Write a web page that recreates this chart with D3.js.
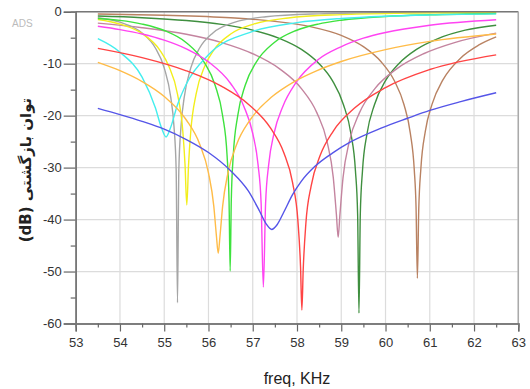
<!DOCTYPE html>
<html><head><meta charset="utf-8">
<script src="https://cdn.jsdelivr.net/npm/d3@7"></script>
<style>body{margin:0;background:#fff}svg{display:block}</style>
</head><body><svg id="c" width="530" height="389"></svg>
<script>
// ---- data ----
const xTicks = [53,54,55,56,57,58,59,60,61,62,63];
const yTicks = [0,-10,-20,-30,-40,-50,-60];

const cyanF = [53.5,54.0,54.5,54.8,54.94,55.04,55.14,55.3,55.5,56.0,57.0,58.0,59.0,60.0,61.0,62.5];
const cyanDB = [-5.2,-7.8,-12.6,-18.5,-22.4,-24.1,-22.4,-17.9,-13.9,-8.3,-3.8,-2.1,-1.3,-0.87,-0.62,-0.41];

const grayF = [53.5,54.0,54.5,54.8,55.0,55.15,55.22,55.27,55.3,55.33,55.38,55.45,55.6,55.8,56.1,56.6,57.3,58.5,60.0,62.5];
const grayDB = [-1.17,-2.02,-4.09,-6.99,-10.8,-16.6,-22.0,-30.5,-56,-30.5,-22.0,-16.6,-10.8,-6.99,-4.09,-2.02,-0.97,-0.41,-0.19,-0.08];

const yellowF = [53.5,54.0,54.5,54.9,55.1,55.3,55.42,55.47,55.51,55.55,55.6,55.72,55.92,56.12,56.52,57.02,57.8,59.0,60.5,62.5];
const yellowDB = [-1.5,-2.38,-4.2,-7.38,-10.4,-15.85,-23.0,-29.4,-37.2,-29.4,-23.0,-15.85,-10.4,-7.38,-4.2,-2.38,-1.2,-0.56,-0.28,-0.14];

const orangeF = [53.5,54.0,54.5,55.0,55.5,55.8,56.0,56.12,56.18,56.22,56.26,56.32,56.44,56.64,56.94,57.44,57.94,58.44,59.0,60.0,61.0,62.5];
const orangeDB = [-9.75,-11.35,-13.44,-16.33,-20.84,-25.45,-31.0,-37.4,-43.2,-46.5,-43.2,-37.4,-31.0,-25.45,-20.84,-16.33,-13.44,-11.37,-9.58,-7.3,-5.72,-4.3];

const greenF = [53.5,54.0,54.5,55.0,55.5,55.9,56.15,56.32,56.42,56.465,56.49,56.515,56.56,56.66,56.83,57.08,57.48,57.98,58.48,59.0,60.0,61.0,62.5];
const greenDB = [-1.3,-1.66,-2.38,-3.62,-5.97,-9.69,-14.15,-20.04,-27.68,-36.46,-49.9,-36.46,-27.68,-20.04,-14.15,-9.69,-5.97,-3.62,-2.38,-1.64,-0.92,-0.59,-0.34];

const magentaF = [53.5,54.0,54.5,55.0,55.5,56.0,56.5,56.8,57.0,57.12,57.19,57.24,57.29,57.36,57.48,57.68,57.98,58.48,58.98,59.5,60.0,61.0,62.5];
const magentaDB = [-2.8,-3.44,-4.29,-5.47,-7.15,-9.66,-13.82,-18.22,-23.44,-29.42,-36.95,-53.0,-36.95,-29.42,-23.44,-18.22,-13.6,-9.2,-6.8,-5.1,-4.0,-2.6,-1.55];

const blueF = [53.5,54.0,54.5,55.0,55.5,56.0,56.5,56.9,57.15,57.3,57.43,57.55,57.7,57.9,58.1,58.4,58.8,59.2,59.9,60.5,61.0,61.7,62.5];
const blueDB = [-18.6,-19.8,-21.1,-22.6,-24.6,-27.1,-30.6,-34.5,-38.3,-40.8,-41.9,-41.0,-38.6,-35.2,-32.6,-29.8,-27.2,-25.1,-22.4,-20.5,-19.0,-17.3,-15.6];

const redF = [53.5,54.5,55.5,56.3,56.9,57.4,57.7,57.9,58.02,58.08,58.11,58.14,58.2,58.32,58.52,58.82,59.3,60.0,61.0,62.5];
const redDB = [-7.05,-8.83,-11.37,-14.38,-17.8,-22.37,-27.1,-32.9,-40.2,-49.1,-57.4,-49.7,-40.8,-33.5,-27.74,-22.96,-18.55,-14.6,-11.13,-8.3];

const mauveF = [53.5,54.5,55.5,56.3,57.0,57.6,58.1,58.45,58.68,58.82,58.89,58.93,58.97,59.04,59.18,59.41,59.76,60.26,60.86,61.56,62.5];
const mauveDB = [-2.2,-3.08,-4.35,-5.94,-8.09,-10.95,-14.8,-19.47,-25.05,-31.92,-39.0,-43.4,-39.0,-31.92,-25.05,-19.47,-14.8,-10.95,-8.09,-5.94,-4.13];

const dkgreenF = [53.5,54.5,55.5,56.3,57.0,57.6,58.1,58.5,58.8,59.05,59.22,59.32,59.37,59.4,59.43,59.48,59.58,59.75,60.0,60.3,60.7,61.2,61.8,62.5];
const dkgreenDB = [-0.83,-1.15,-1.7,-2.45,-3.55,-5.12,-7.25,-10.0,-13.27,-17.89,-23.54,-30.56,-39.03,-58.0,-39.03,-30.56,-23.54,-17.89,-13.27,-10.0,-7.25,-5.12,-3.55,-2.6];

const brownF = [53.5,55.0,56.5,57.5,58.3,59.0,59.5,59.9,60.2,60.42,60.56,60.65,60.69,60.72,60.75,60.8,60.9,61.05,61.3,61.7,62.1,62.5];
const brownDB = [-0.43,-0.68,-1.17,-1.85,-2.88,-4.57,-6.73,-9.64,-13.3,-17.95,-23.35,-30.48,-37.68,-51.3,-38.37,-30.04,-23.0,-17.83,-13.08,-8.9,-6.45,-4.85];

const series = [
  {f: brownF, v: brownDB, c: "#b98262"},
  {f: dkgreenF, v: dkgreenDB, c: "#3f8f3f"},
  {f: mauveF, v: mauveDB, c: "#c4849f"},
  {f: grayF, v: grayDB, c: "#a6a6a6"},
  {f: yellowF, v: yellowDB, c: "#f2ee1c"},
  {f: greenF, v: greenDB, c: "#3ee23e"},
  {f: cyanF, v: cyanDB, c: "#44eeee"},
  {f: magentaF, v: magentaDB, c: "#ff44f2"},
  {f: orangeF, v: orangeDB, c: "#ffbc48"},
  {f: redF, v: redDB, c: "#ff4444"},
  {f: blueF, v: blueDB, c: "#5555e8"}
];

// ---- layout ----
const svg = d3.select("#c");
const L = 75.7, R = 518.3, T = 11.7, B = 323.5;
const x = d3.scaleLinear().domain([53,63]).range([L,R]);
const y = d3.scaleLinear().domain([-60,0]).range([B,T]);

// grid
const g = svg.append("g");
g.selectAll(".gx").data(xTicks).join("line")
  .attr("x1", d=>x(d)).attr("x2", d=>x(d)).attr("y1", T).attr("y2", B)
  .attr("stroke", "#dcdcdc").attr("stroke-width", 1.2);
g.selectAll(".gy").data(yTicks).join("line")
  .attr("x1", L).attr("x2", R).attr("y1", d=>y(d)).attr("y2", d=>y(d))
  .attr("stroke", "#dcdcdc").attr("stroke-width", 1.2);

// curves
svg.append("clipPath").attr("id","cp").append("rect")
  .attr("x", L).attr("y", T).attr("width", R-L).attr("height", B-T);
const line = d3.line().x(d=>x(d[0])).y(d=>y(d[1])).curve(d3.curveMonotoneX);
svg.append("g").attr("clip-path","url(#cp)").selectAll("path").data(series).join("path")
  .attr("d", s => line(s.f.map((f,i)=>[f, s.v[i]])))
  .attr("fill","none").attr("stroke", s=>s.c).attr("stroke-width", 1.4);

// frame
svg.append("line").attr("x1", L).attr("x2", R).attr("y1", T).attr("y2", T).attr("stroke","#777").attr("stroke-width",1.5);
svg.append("line").attr("x1", R).attr("x2", R).attr("y1", T).attr("y2", B).attr("stroke","#aaa").attr("stroke-width",1.5);

// axes
const fmt = d => String(d);
const xAxis = d3.axisBottom(x).tickValues(xTicks).tickSize(8).tickPadding(6).tickFormat(fmt);
const xg = svg.append("g").attr("transform", `translate(0,${B})`).call(xAxis);
const xMinor = d3.axisBottom(x).tickValues(d3.range(53.5,63,1)).tickSize(4).tickFormat("");
const xg2 = svg.append("g").attr("transform", `translate(0,${B})`).call(xMinor);
const yAxis = d3.axisLeft(y).tickValues(yTicks).tickSize(12).tickPadding(2).tickFormat(fmt);
const yg = svg.append("g").attr("transform", `translate(${L},0)`).call(yAxis);
const yMinor = d3.axisLeft(y).tickValues([-5,-15,-25,-35,-45,-55]).tickSize(5).tickFormat("");
const yg2 = svg.append("g").attr("transform", `translate(${L},0)`).call(yMinor);
[xg,xg2,yg,yg2].forEach(a=>{
  a.select(".domain").attr("stroke","#777").attr("stroke-width",1.5);
  a.selectAll(".tick line").attr("stroke","#666").attr("stroke-width",1.2);
  a.selectAll("text").attr("fill","#333").style("font-family","Liberation Sans, Arial, sans-serif").style("font-size","13px");
});

// titles
svg.append("text").attr("x", 297).attr("y", 384).attr("text-anchor","middle")
  .style("font-family","Liberation Sans, Arial, sans-serif").style("font-size","16px").attr("fill","#222")
  .text("freq, KHz");
svg.append("text").attr("transform","translate(31,170) rotate(-90)").attr("text-anchor","middle")
  .style("font-family","DejaVu Sans, sans-serif").style("font-size","15px").style("font-weight","bold").attr("fill","#222")
  .attr("direction","rtl")
  .text("توان بازگشتی (dB)");
svg.append("text").attr("x", 12).attr("y", 27)
  .style("font-family","Liberation Sans, Arial, sans-serif").style("font-size","10px").attr("fill","#bbb")
  .text("ADS");
</script></body></html>
